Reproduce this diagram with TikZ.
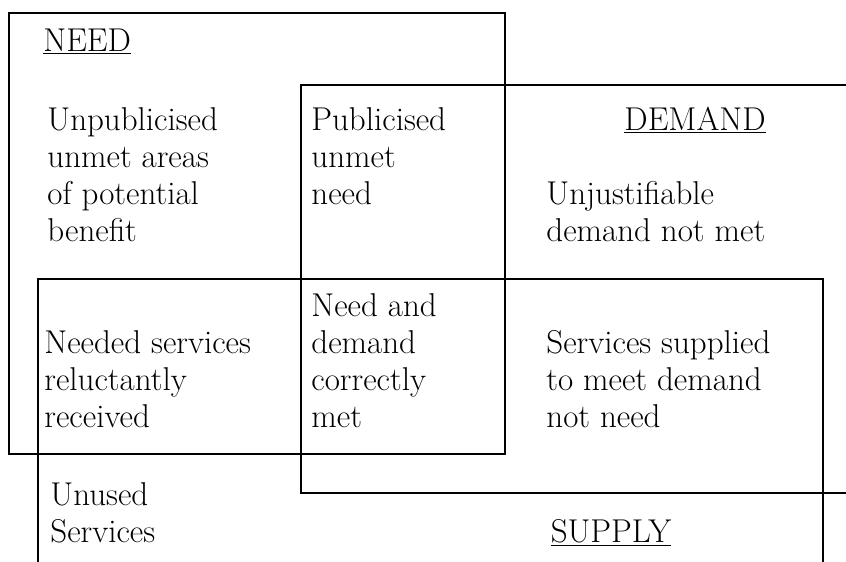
\documentclass[tikz,border=0pt]{standalone}
\usepackage{tikz}
\usetikzlibrary{positioning}

\tikzset{
  txt/.style={anchor=base west, align=left, inner sep=0pt,
    font=\fontsize{16.5}{18.5}\selectfont},
  heading/.style={anchor=base, inner sep=0pt,
    font=\fontsize{16.5}{18.5}\selectfont},
  frame/.style={line width=0.7pt},
}

\begin{document}
\begin{tikzpicture}[x=0.5pt,y=-0.5pt]
\useasboundingbox (0,0) rectangle (846,562);
% the three overlapping areas
\draw[frame] (9,13) rectangle (505,454);
\draw[frame] (846,85) -- (301,85) -- (301,493) -- (846,493);
\draw[frame] (38,562) -- (38,279) -- (823,279) -- (823,562);

% headings (base = baseline)
\node[txt] (need) at (43,51) {\underline{NEED}};
\node[heading] (demand) at (695,130) {\underline{DEMAND}};
\node[heading] (supply) at (611,542) {\underline{SUPPLY}};

% the areas, placed by the baseline of their last line
\node[txt] (unpub) at (47,241) {Unpublicised\\unmet areas\\of potential\\benefit};
\node[txt] (pub) at (311,204) {Publicised\\unmet\\need};
\node[txt] (unjust) at (546,241) {Unjustifiable\\demand not met};
\node[txt] (correct) at (311,427) {Need and\\demand\\correctly\\met};
\node[txt] (reluct) at (44,427) {Needed services\\reluctantly\\received};
\node[txt] (supplied) at (546,427) {Services supplied\\to meet demand\\not need};
\node[txt] (unused) at (50,542) {Unused\\Services};
\end{tikzpicture}
\end{document}
